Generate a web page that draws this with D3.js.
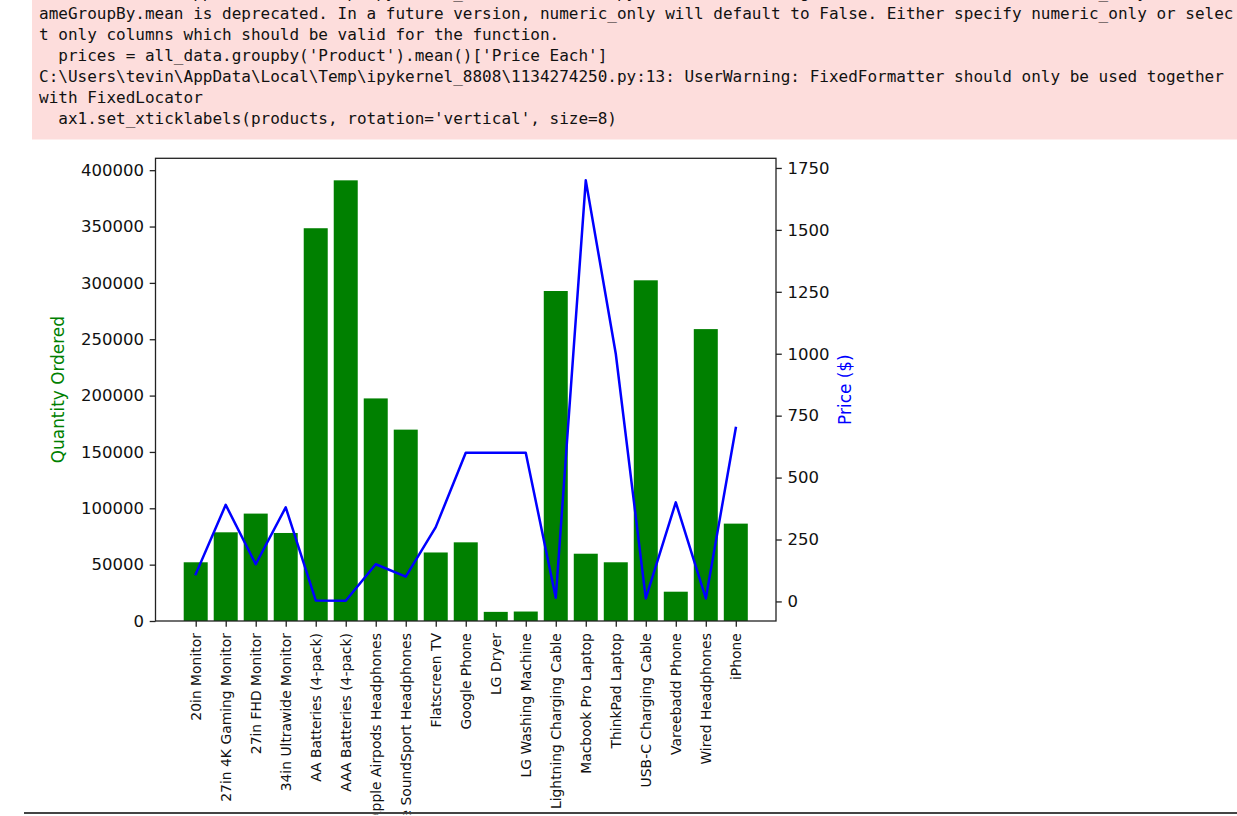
<!DOCTYPE html>
<html>
<head>
<meta charset="utf-8">
<script src="https://cdn.jsdelivr.net/npm/d3@7"></script>
<style>
  html, body { margin: 0; padding: 0; background: #fff; }
  svg { display: block; }
</style>
</head>
<body>
<svg id="chart" width="1237" height="816"></svg>
<script>
const warningLines = [
  "C:\\Users\\tevin\\AppData\\Local\\Temp\\ipykernel_8808\\1134274250.py:12: FutureWarning: The default value of numeric_only in DataFr",
  "ameGroupBy.mean is deprecated. In a future version, numeric_only will default to False. Either specify numeric_only or selec",
  "t only columns which should be valid for the function.",
  "  prices = all_data.groupby('Product').mean()['Price Each']",
  "C:\\Users\\tevin\\AppData\\Local\\Temp\\ipykernel_8808\\1134274250.py:13: UserWarning: FixedFormatter should only be used together",
  "with FixedLocator",
  "  ax1.set_xticklabels(products, rotation='vertical', size=8)"
];

const products = [
  "20in Monitor", "27in 4K Gaming Monitor", "27in FHD Monitor", "34in Ultrawide Monitor",
  "AA Batteries (4-pack)", "AAA Batteries (4-pack)", "Apple Airpods Headphones",
  "Bose SoundSport Headphones", "Flatscreen TV", "Google Phone", "LG Dryer",
  "LG Washing Machine", "Lightning Charging Cable", "Macbook Pro Laptop",
  "ThinkPad Laptop", "USB-C Charging Cable", "Vareebadd Phone", "Wired Headphones", "iPhone"
];
const quantityOrdered = [
  52100, 78700, 95300, 78100, 348500, 391000, 197500, 169800, 60800, 69800,
  8100, 8400, 292800, 59700, 52100, 302300, 26000, 259000, 86400
];
const prices = [
  109.99, 389.99, 149.99, 379.99, 3.84, 2.99, 150, 99.99, 300, 600,
  600, 600, 14.95, 1700, 999.99, 11.95, 400, 11.99, 700
];
const qtyTicks = [0, 50000, 100000, 150000, 200000, 250000, 300000, 350000, 400000];
const priceTicks = [0, 250, 500, 750, 1000, 1250, 1500, 1750];

const svg = d3.select("#chart");

// ---- warning output box ----
svg.append("rect").attr("x", 32).attr("y", 0).attr("width", 1237 - 32).attr("height", 139.5)
  .attr("fill", "#fddddc");
svg.append("g").selectAll("text").data(warningLines).join("text")
  .attr("x", 39)
  .attr("y", (d, i) => -2 + i * 21)
  .attr("font-family", "'DejaVu Sans Mono', 'Liberation Mono', monospace")
  .attr("font-size", 16)
  .attr("fill", "#111")
  .attr("xml:space", "preserve")
  .style("white-space", "pre")
  .text(d => d);

// ---- chart ----
const L = 155.5, R = 776, T = 158.3, B = 621;
const font = "'DejaVu Sans', sans-serif";
const tickLen = 5.8, tickPad = 5.8, spineW = 1.3;

const x = d3.scaleLinear().domain([-1.34, products.length - 1 + 1.34]).range([L, R]);
const yQ = d3.scaleLinear().domain([0, 410550]).range([B, T]);
const yP = d3.scaleLinear().domain([-79, 1789]).range([B, T]);
const barW = (x(0.8) - x(0));

// bars
svg.append("g").selectAll("rect").data(quantityOrdered).join("rect")
  .attr("x", (d, i) => x(i) - barW / 2)
  .attr("y", d => yQ(d))
  .attr("width", barW)
  .attr("height", d => yQ(0) - yQ(d))
  .attr("fill", "#008000");

// price line
const line = d3.line().x((d, i) => x(i)).y(d => yP(d));
svg.append("path").datum(prices)
  .attr("d", line)
  .attr("fill", "none")
  .attr("stroke", "#0000ff")
  .attr("stroke-width", 2.5)
  .attr("stroke-linejoin", "round")
  .attr("stroke-linecap", "square");

function styleAxis(g, size) {
  g.select(".domain").remove();
  g.selectAll(".tick line").attr("stroke", "#222").attr("stroke-width", spineW);
  g.selectAll(".tick text").attr("fill", "#111").attr("font-family", font).attr("font-size", size);
}

// left axis
const gL = svg.append("g").attr("transform", `translate(${L},0)`)
  .call(d3.axisLeft(yQ).tickValues(qtyTicks).tickFormat(d3.format("d"))
    .tickSize(tickLen).tickPadding(tickPad));
styleAxis(gL, 16.5);

// right axis
const gR = svg.append("g").attr("transform", `translate(${R},0)`)
  .call(d3.axisRight(yP).tickValues(priceTicks).tickFormat(d3.format("d"))
    .tickSize(tickLen).tickPadding(tickPad));
styleAxis(gR, 16.5);

// bottom axis
const gB = svg.append("g").attr("transform", `translate(0,${B})`)
  .call(d3.axisBottom(x).tickValues(d3.range(products.length)).tickFormat(i => products[i])
    .tickSize(tickLen).tickPadding(tickPad));
styleAxis(gB, 13.9);
gB.selectAll(".tick text")
  .attr("transform", `rotate(-90)`)
  .attr("x", -(tickLen + tickPad + 0.5))
  .attr("y", 0)
  .attr("dy", "0.35em")
  .attr("text-anchor", "end");

// spines
svg.append("rect").attr("x", L).attr("y", T).attr("width", R - L).attr("height", B - T)
  .attr("fill", "none").attr("stroke", "#222").attr("stroke-width", spineW);

// axis labels
svg.append("text")
  .attr("transform", `translate(58.5,${(T + B) / 2}) rotate(-90)`)
  .attr("text-anchor", "middle").attr("dy", "0.35em")
  .attr("font-family", font).attr("font-size", 16.9)
  .attr("fill", "#008000")
  .text("Quantity Ordered");
svg.append("text")
  .attr("transform", `translate(845,${(T + B) / 2}) rotate(-90)`)
  .attr("text-anchor", "middle").attr("dy", "0.35em")
  .attr("font-family", font).attr("font-size", 16.9)
  .attr("fill", "#0000ff")
  .text("Price ($)");

// bottom cut-off separator
svg.append("rect").attr("x", 0).attr("y", 814.5).attr("width", 1237).attr("height", 2).attr("fill", "#fff");
svg.append("line").attr("x1", 24).attr("x2", 1237).attr("y1", 813).attr("y2", 813)
  .attr("stroke", "#444").attr("stroke-width", 2);
</script>
</body>
</html>
